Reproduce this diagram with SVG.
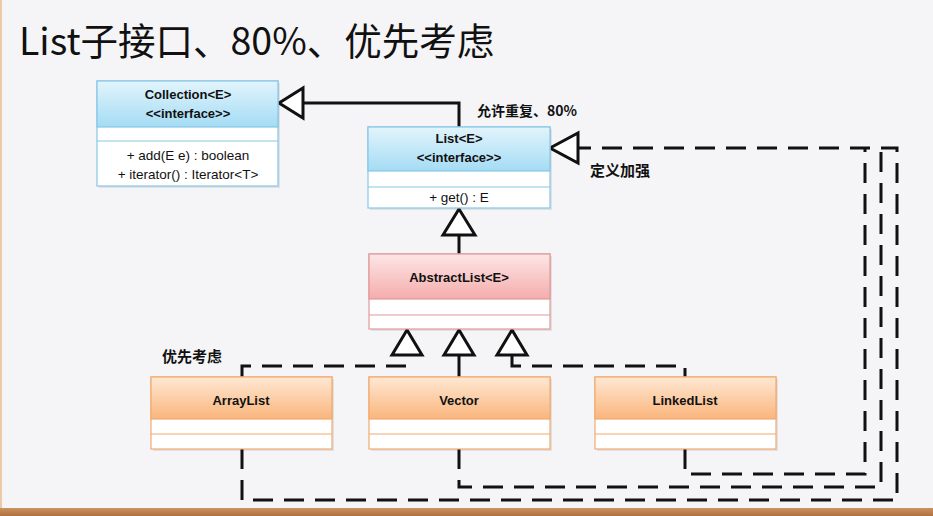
<svg xmlns="http://www.w3.org/2000/svg" width="933" height="516" viewBox="0 0 933 516">
<defs>
<linearGradient id="gBlue" x1="0" y1="0" x2="0" y2="1"><stop offset="0" stop-color="#e2f4fc"/><stop offset="1" stop-color="#a4dcf4"/></linearGradient>
<linearGradient id="gPink" x1="0" y1="0" x2="0" y2="1"><stop offset="0" stop-color="#fde6e6"/><stop offset="1" stop-color="#f5acac"/></linearGradient>
<linearGradient id="gOrange" x1="0" y1="0" x2="0" y2="1"><stop offset="0" stop-color="#fee8d4"/><stop offset="1" stop-color="#fab57c"/></linearGradient>
<linearGradient id="gBar" x1="0" y1="0" x2="0" y2="1"><stop offset="0" stop-color="#c99460"/><stop offset="1" stop-color="#b07040"/></linearGradient>
</defs>
<style>
.t{font-family:"Liberation Sans",Arial,sans-serif;font-size:13.5px;fill:#111;text-anchor:middle}
.b{font-weight:bold;font-size:13px}
.cjk{font-family:"Noto Sans CJK SC",sans-serif;font-size:15px;font-weight:bold;fill:#111}
.blue{stroke:#88c6e6;stroke-width:1.2}
.pink{stroke:#e09a9a;stroke-width:1.2}
.orange{stroke:#f2aa70;stroke-width:1.2}
.white{fill:#fff}
.sh{fill:#000;opacity:0.08}
.solid{fill:none;stroke:#111;stroke-width:3}
.dash{fill:none;stroke:#111;stroke-width:3;stroke-dasharray:20 11}
.tri{fill:#fff;stroke:#111;stroke-width:3;stroke-linejoin:miter}
</style>
<rect x="0" y="0" width="933" height="516" fill="#f5f5f7"/>
<rect x="0" y="0" width="2" height="508" fill="#ecc9a8"/>
<rect x="0" y="508" width="933" height="8" fill="url(#gBar)"/>
<text x="19" y="55" style="font-family:'Noto Sans CJK SC',sans-serif;font-size:37.5px;fill:#111">List子接口、80%、优先考虑</text>

<g id="connectors">
<path class="dash" d="M242,449 V500 H897 V148 H578"/>
<path class="dash" d="M459,449 V487 H881 V152"/>
<path class="dash" d="M685,449 V474 H865 V148"/>
<path class="dash" d="M242,377 V366 H407 V355"/>
<path class="dash" d="M512,355 V366 H685 V377"/>
<path class="solid" d="M459,355 V377"/>
<path class="solid" d="M459,254 V235"/>
<path class="solid" d="M459,127 V103 H303"/>
<polygon class="tri" points="279,103 303,88 303,118"/>
<polygon class="tri" points="550,148 578,133 578,163"/>
<polygon class="tri" points="459,209 443,235 475,235"/>
<polygon class="tri" points="407,330 392,355 422,355"/>
<polygon class="tri" points="459,330 444,355 474,355"/>
<polygon class="tri" points="512,330 497,355 527,355"/>
</g>

<g id="collection">
<rect class="sh" x="99" y="83" width="181" height="105"/>
<rect class="white blue" x="97" y="81" width="181" height="105"/>
<rect class="blue" x="97" y="81" width="181" height="46" fill="url(#gBlue)"/>
<line class="blue" x1="97" y1="141" x2="278" y2="141"/>
<text class="t b" x="188" y="99">Collection&lt;E&gt;</text>
<text class="t b" x="188" y="118">&lt;&lt;interface&gt;&gt;</text>
<text class="t" x="188" y="160">+ add(E e) : boolean</text>
<text class="t" x="188" y="179">+ iterator() : Iterator&lt;T&gt;</text>
</g>

<g id="list">
<rect class="sh" x="370" y="129" width="182" height="81"/>
<rect class="white blue" x="368" y="127" width="182" height="81"/>
<rect class="blue" x="368" y="127" width="182" height="44" fill="url(#gBlue)"/>
<line class="blue" x1="368" y1="187" x2="550" y2="187"/>
<text class="t b" x="459" y="143">List&lt;E&gt;</text>
<text class="t b" x="459" y="162">&lt;&lt;interface&gt;&gt;</text>
<text class="t" x="459" y="202">+ get() : E</text>
</g>

<g id="abstractlist">
<rect class="sh" x="371" y="256" width="181" height="75"/>
<rect class="white pink" x="369" y="254" width="181" height="75"/>
<rect class="pink" x="369" y="254" width="181" height="45" fill="url(#gPink)"/>
<line class="pink" x1="369" y1="315" x2="550" y2="315"/>
<text class="t b" x="459" y="282">AbstractList&lt;E&gt;</text>
</g>

<g id="arraylist">
<rect class="sh" x="153" y="379" width="181" height="72"/>
<rect class="white orange" x="151" y="377" width="181" height="72"/>
<rect class="orange" x="151" y="377" width="181" height="42" fill="url(#gOrange)"/>
<line class="orange" x1="151" y1="434" x2="332" y2="434"/>
<text class="t b" x="241" y="405">ArrayList</text>
</g>

<g id="vector">
<rect class="sh" x="371" y="379" width="181" height="72"/>
<rect class="white orange" x="369" y="377" width="181" height="72"/>
<rect class="orange" x="369" y="377" width="181" height="42" fill="url(#gOrange)"/>
<line class="orange" x1="369" y1="434" x2="550" y2="434"/>
<text class="t b" x="459" y="405">Vector</text>
</g>

<g id="linkedlist">
<rect class="sh" x="597" y="379" width="181" height="72"/>
<rect class="white orange" x="595" y="377" width="181" height="72"/>
<rect class="orange" x="595" y="377" width="181" height="42" fill="url(#gOrange)"/>
<line class="orange" x1="595" y1="434" x2="776" y2="434"/>
<text class="t b" x="685" y="405">LinkedList</text>
</g>

<g id="labels">
<text class="cjk" x="477" y="116" style="font-size:14px">允许重复、80%</text>
<text class="cjk" x="590" y="176">定义加强</text>
<text class="cjk" x="162" y="362">优先考虑</text>
</g>
</svg>
